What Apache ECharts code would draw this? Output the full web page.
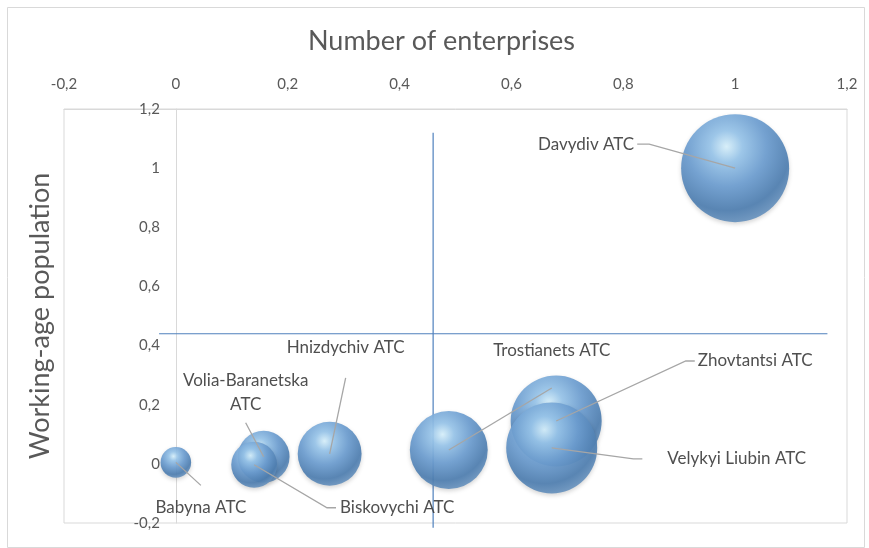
<!DOCTYPE html>
<html><head><meta charset="utf-8">
<script src="https://cdn.jsdelivr.net/npm/echarts@6/dist/echarts.min.js"></script>
<style>html,body{margin:0;padding:0;background:#fff}#c{width:869px;height:548px}</style>
</head><body><div id="c"></div>
<script>
// ---- data ----
const names = ['Babyna ATC','Volia-Baranetska\nATC','Biskovychi ATC','Hnizdychiv ATC','Trostianets ATC','Zhovtantsi ATC','Velykyi Liubin ATC','Davydiv ATC'];
const enterprises = [0.0, 0.157, 0.14, 0.275, 0.488, 0.68, 0.672, 1.0];
const population  = [0.005, 0.024, -0.003, 0.034, 0.047, 0.145, 0.054, 1.0];
const bubbleSize  = [0.08, 0.23, 0.18, 0.35, 0.52, 0.71, 0.71, 1.0];
const avgEnterprises = 0.46;          // vertical divider
const avgPopulation  = 0.44;          // horizontal divider
const vLineSpan = [1.12, -0.216];     // y extent of the vertical divider
const hLineSpan = [-0.03, 1.165];     // x extent of the horizontal divider
const axisMin = -0.2, axisMax = 1.2, axisStep = 0.2;

// ---- styling (not data) ----
const labelOffsets = [[25,45],[-18,-64],[143,43],[16,-106],[103,-99],[199,-60],[185,11],[-149,-24]];
const labelAnchors = ['top','bottom','left','bottom','bottom','left','left','right'];
const labelGaps    = [10, 6, 4, 18, 25, 3, 25, 3];
const maxDiameter = 108;
const FONT = 'Lato';
const LABEL_SIZE = 17, LABEL_LH = 24;
const fmt = v => String(Math.round(v*10)/10).replace('.', ',');
const gridLeft = 64, gridRight = 22;
const plotW = 869 - gridLeft - gridRight;
const yAxisShift = -plotW * (0 - axisMin) / (axisMax - axisMin);  // place vertical axis at x = 0

const ctx = document.createElement('canvas').getContext('2d');
ctx.font = LABEL_SIZE + 'px ' + FONT;
function labelBox(text) {
  const lines = text.split('\n');
  return {w: Math.max(...lines.map(l => ctx.measureText(l).width)), h: lines.length * LABEL_LH};
}

// leader lines: from the bubble centre to the moved label
function renderLeader(params, api) {
  const i = params.dataIndex;
  const c = api.coord([api.value(0), api.value(1)]);
  const [dx, dy] = labelOffsets[i];
  const box = labelBox(names[i]);
  const cx = c[0] + dx, cy = c[1] + dy;
  const L = cx - box.w / 2, R = cx + box.w / 2, T = cy - box.h / 2, B = cy + box.h / 2;
  const g = labelGaps[i];
  let pts;
  switch (labelAnchors[i]) {
    case 'top':    pts = [c, [cx, T - g]]; break;
    case 'bottom': pts = [c, [cx, B + g]]; break;
    case 'left':   pts = [c, [L - g - 9, cy], [L - g, cy]]; break;
    default:       pts = [c, [R + g + 12, cy], [R + g, cy]];
  }
  return {type:'polyline', shape:{points:pts}, style:{stroke:'#a6a6a6', lineWidth:1.3, fill:null}, silent:true};
}

const points = names.map((n,i)=>({name:n, value:[enterprises[i], population[i], bubbleSize[i]]}));

const chart = echarts.init(document.getElementById('c'), null, {renderer:'canvas'});
chart.setOption({
  animation:false,
  backgroundColor:'#fff',
  graphic:[{type:'rect', left:5, top:5, shape:{width:857, height:540}, style:{fill:'none', stroke:'#d9d9d9', lineWidth:1}, silent:true, z:-10}],
  grid:{left:gridLeft, top:109, right:gridRight, bottom:25, show:true, borderColor:'#d9d9d9', borderWidth:1, containLabel:false, outerBoundsMode:'none'},
  xAxis:{
    type:'value', position:'top', min:axisMin, max:axisMax, interval:axisStep,
    axisLine:{show:true, onZero:false, lineStyle:{color:'#d9d9d9'}},
    axisTick:{show:false}, splitLine:{show:false},
    axisLabel:{color:'#595959', fontSize:15, fontFamily:FONT, margin:17, formatter:fmt},
    name:'Number of enterprises', nameLocation:'middle', nameGap:54, nameMoveOverlap:false,
    nameTextStyle:{color:'#595959', fontSize:27, fontFamily:FONT, padding:[0,28,0,0]}
  },
  yAxis:{
    type:'value', position:'left', offset:yAxisShift, min:axisMin, max:axisMax, interval:axisStep,
    axisLine:{show:true, onZero:false, lineStyle:{color:'#d9d9d9'}},
    axisTick:{show:false}, splitLine:{show:false},
    axisLabel:{color:'#595959', fontSize:15, fontFamily:FONT, margin:16, formatter:fmt},
    name:'Working-age population', nameLocation:'middle', nameGap:122, nameMoveOverlap:false,
    nameTextStyle:{color:'#595959', fontSize:27, fontFamily:FONT}
  },
  series:[
    {
      type:'line', silent:true, clip:false, symbol:'none', z:2,
      data:[[avgEnterprises, vLineSpan[0]],[avgEnterprises, vLineSpan[1]]],
      lineStyle:{color:'#4f81bd', width:1.2}
    },
    {
      type:'line', silent:true, clip:false, symbol:'none', z:2,
      data:[[hLineSpan[0], avgPopulation],[hLineSpan[1], avgPopulation]],
      lineStyle:{color:'#4f81bd', width:1.2}
    },
    {
      type:'scatter', z:3,
      data:points,
      symbolSize: v => maxDiameter*Math.sqrt(v[2]),
      itemStyle:{
        color:{type:'radial', x:0.42, y:0.3, r:0.74, colorStops:[
          {offset:0, color:'#d8f1fc'},
          {offset:0.2, color:'#98c5ea'},
          {offset:0.5, color:'#6c9dd0'},
          {offset:0.8, color:'#4e7eb0'},
          {offset:1, color:'#6f98c2'}
        ]},
        opacity:0.92,
        shadowBlur:4, shadowColor:'rgba(0,0,0,0.18)', shadowOffsetY:2
      },
      label:{show:true, position:'inside', formatter:'{b}', color:'#404040', fontSize:LABEL_SIZE, fontFamily:FONT, lineHeight:LABEL_LH, align:'center'},
      labelLayout: p => ({dx:labelOffsets[p.dataIndex][0], dy:labelOffsets[p.dataIndex][1]})
    },
    {
      type:'custom', z:4, silent:true, clip:false,
      data:points,
      renderItem:renderLeader
    }
  ]
});
</script></body></html>
